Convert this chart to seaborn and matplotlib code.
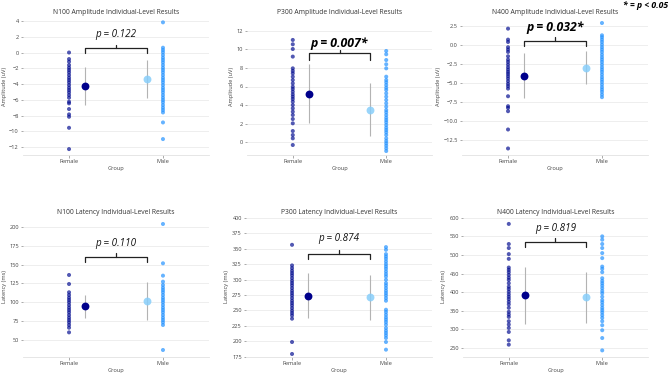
import numpy as np
import pandas as pd
import matplotlib
matplotlib.use("Agg")
import matplotlib.pyplot as plt
import seaborn as sns

# ---------------- data ----------------
groups = ["Female", "Male"]

titles = ["N100 Amplitude Individual-Level Results",
          "P300 Amplitude Individual-Level Results",
          "N400 Amplitude Individual-Level Results",
          "N100 Latency Individual-Level Results",
          "P300 Latency Individual-Level Results",
          "N400 Latency Individual-Level Results"]
ylabels = ["Amplitude (uV)"] * 3 + ["Latency (ms)"] * 3
p_labels = ["p = 0.122", "p = 0.007*", "p = 0.032*", "p = 0.110", "p = 0.874", "p = 0.819"]
significant = [False, True, True, False, False, False]

n100_amp_female = [0.0, -0.83, -1.16, -1.59, -1.93, -2.22, -2.52, -2.86, -3.2, -3.49, -3.79, -4.13,
                   -4.47, -4.76, -5.06, -5.4, -5.73, -6.24, -6.45, -7.17, -7.85, -8.15, -9.55, -12.25]
n100_amp_male = [3.83, 0.61, 0.32, 0.03, -0.32, -0.66, -0.95, -1.25, -1.59, -1.93, -2.22, -2.52, -2.86,
                 -3.2, -3.49, -3.79, -4.13, -4.47, -4.76, -5.06, -5.4, -5.73, -6.03, -6.32, -6.67, -7.0,
                 -7.3, -7.6, -8.87, -10.98]
p300_amp_female = [11.03, 10.56, 10.05, 9.23, 7.96, 7.68, 7.42, 7.06, 6.7, 6.34, 5.98, 5.73, 5.44, 5.15,
                   4.9, 4.65, 4.36, 4.0, 3.64, 3.28, 2.92, 2.49, 2.02, 1.19, 0.76, 0.4, -0.32]
p300_amp_male = [9.84, 9.48, 8.86, 8.4, 7.96, 7.06, 6.7, 6.45, 6.16, 5.87, 5.62, 5.26, 4.9, 4.54, 4.18,
                 3.82, 3.46, 3.21, 2.92, 2.63, 2.38, 2.13, 1.84, 1.55, 1.3, 1.05, 0.76, 0.4, 0.11, -0.14,
                 -0.4, -0.68, -0.97]
n400_amp_female = [2.15, 0.7, 0.39, -0.3, -0.61, -0.92, -1.49, -1.93, -2.24, -2.59, -2.94, -3.25, -3.55,
                   -3.82, -4.12, -4.43, -4.78, -5.13, -5.43, -5.75, -6.76, -8.07, -8.29, -8.73, -11.14,
                   -13.64]
n400_amp_male = [2.89, 1.27, 1.01, 0.7, 0.39, 0.04, -0.3, -0.61, -0.92, -1.28, -1.62, -1.93, -2.24,
                 -2.59, -2.94, -3.25, -3.55, -3.9, -4.25, -4.56, -4.87, -5.22, -5.57, -5.88, -6.18,
                 -6.54, -6.88]
n100_lat_female = [136.3, 124.3, 113.3, 109.7, 106.1, 103.1, 100.0, 96.4, 92.9, 89.8, 86.7, 83.1, 79.6,
                   76.5, 73.4, 69.9, 66.3, 60.1]
n100_lat_male = [204.0, 151.8, 135.4, 127.4, 123.0, 119.4, 116.3, 113.3, 109.7, 106.1, 103.1, 100.0,
                 96.4, 92.9, 89.8, 86.7, 83.1, 79.6, 76.5, 73.4, 69.9, 36.7]
p300_lat_female = [356.3, 322.9, 318.5, 314.2, 310.4, 306.7, 302.4, 298.1, 294.3, 290.5, 286.2, 281.9,
                   278.1, 274.3, 270.0, 265.7, 261.9, 258.1, 253.8, 249.5, 245.7, 241.9, 236.6, 198.8,
                   179.4]
p300_lat_male = [352.6, 348.2, 341.2, 337.4, 333.7, 329.3, 325.0, 321.2, 317.5, 313.1, 308.9, 305.0,
                 299.7, 294.3, 290.5, 286.2, 281.9, 278.1, 274.3, 270.0, 265.7, 251.1, 247.4, 243.0,
                 238.7, 235.0, 231.2, 226.9, 221.5, 217.2, 213.4, 209.5, 205.3, 198.8, 186.4]
n400_lat_female = [583.7, 529.7, 518.9, 502.6, 489.9, 466.4, 460.2, 453.9, 446.6, 439.3, 433.1, 424.2,
                   415.0, 408.8, 401.5, 394.4, 387.9, 381.7, 374.4, 367.4, 358.2, 347.4, 340.3, 333.8,
                   322.2, 313.3, 304.1, 293.3, 270.8, 259.2]
n400_lat_male = [550.2, 541.3, 529.7, 518.9, 505.3, 491.8, 469.0, 462.9, 453.9, 437.7, 430.4, 424.2,
                 417.7, 410.7, 403.4, 397.1, 387.9, 379.0, 372.8, 365.5, 358.2, 352.0, 345.7, 338.4,
                 331.1, 322.2, 311.4, 297.9, 277.0, 243.8]

# group means and standard deviations (Female, Male)
n100_amp_mean, n100_amp_sd = [-4.25, -3.35], [2.43, 2.39]
p300_amp_mean, p300_amp_sd = [5.2, 3.5], [3.19, 2.83]
n400_amp_mean, n400_amp_sd = [-4.05, -2.98], [2.96, 2.13]
n100_lat_mean, n100_lat_sd = [94.7, 101.8], [15.1, 25.5]
p300_lat_mean, p300_lat_sd = [273.8, 271.5], [36.4, 36.4]
n400_lat_mean, n400_lat_sd = [392.5, 386.0], [76.5, 69.0]

female_sets = [n100_amp_female, p300_amp_female, n400_amp_female,
               n100_lat_female, p300_lat_female, n400_lat_female]
male_sets = [n100_amp_male, p300_amp_male, n400_amp_male,
             n100_lat_male, p300_lat_male, n400_lat_male]
mean_sets = [n100_amp_mean, p300_amp_mean, n400_amp_mean, n100_lat_mean, p300_lat_mean, n400_lat_mean]
sd_sets = [n100_amp_sd, p300_amp_sd, n400_amp_sd, n100_lat_sd, p300_lat_sd, n400_lat_sd]

yticks = [np.arange(-12, 4.1, 2), np.arange(0, 12.1, 2), np.arange(-12.5, 2.6, 2.5),
          np.arange(50, 201, 25), np.arange(175, 401, 25), np.arange(250, 601, 50)]
ylims = [(-13.0, 4.38), (-1.4, 13.4), (-14.5, 3.55), (27.4, 214.6), (174.5, 403.0), (226.0, 605.0)]

# ---------------- style / layout ----------------
sns.set_theme(style="white")
plt.rcParams['font.family'] = ['Open Sans', 'DejaVu Sans']

W, H = 669, 373
fig = plt.figure(figsize=(W / 100, H / 100), dpi=100)

# axes boxes in pixels: (left, top, right, bottom)
boxes = [(23, 18, 209, 155), (247, 18, 432, 155), (462, 18, 648, 155),
         (23, 216, 209, 357), (246, 216, 432, 357), (463, 216, 648, 357)]
ylabel_x = [-0.086, -0.07, -0.112, -0.086, -0.091, -0.092]
# bracket (horizontal, end, notch) and text y in axes fraction
bracket_y = [(0.781, 0.745, 0.803, 0.883), (0.745, 0.693, 0.766, 0.817), (0.832, 0.796, 0.861, 0.934),
             (0.711, 0.676, 0.735, 0.806), (0.730, 0.695, 0.759, 0.842), (0.813, 0.778, 0.842, 0.913)]
title_pad = [3.0, 3.0, 3.0, 1.8, 1.8, 1.8]

palette = {"Female": "#000a8f", "Male": "#1E90FF"}
mean_colors = ["#00008B", "#87CEFA"]
offsets = [0.17, -0.17]

for i in range(6):
    l, t, r, b = boxes[i]
    ax = fig.add_axes([l / W, 1 - b / H, (r - l) / W, (b - t) / H])
    df = pd.DataFrame({
        "Group": ["Female"] * len(female_sets[i]) + ["Male"] * len(male_sets[i]),
        "value": list(female_sets[i]) + list(male_sets[i]),
    })
    sns.stripplot(data=df, x="Group", y="value", hue="Group", order=groups, palette=palette,
                  jitter=False, size=2.9, alpha=0.68, linewidth=0, legend=False, ax=ax, zorder=3)
    # means with SD error bars, beside each strip
    for k in range(2):
        xpos = k + offsets[k]
        ax.errorbar([xpos], [mean_sets[i][k]], yerr=[sd_sets[i][k]], fmt="none",
                    ecolor="#b3b3b3", elinewidth=0.8, capsize=0, zorder=4)
        ax.scatter([xpos], [mean_sets[i][k]], s=32, color=mean_colors[k],
                   alpha=1.0 if k == 0 else 0.85, linewidths=0, zorder=5)

    ax.set_xlim(-0.49, 1.49)
    ax.set_ylim(*ylims[i])
    ax.set_yticks(yticks[i])
    ax.grid(axis="y", color="#ebebeb", linewidth=0.6)
    ax.set_axisbelow(True)
    for s in ["left", "right", "top"]:
        ax.spines[s].set_visible(False)
    ax.spines["bottom"].set_color("#e2e2e2")
    ax.spines["bottom"].set_linewidth(0.6)
    ax.tick_params(axis="both", which="major", length=1.8, width=0.5, color="#888888",
                   pad=1.2, labelsize=4.1, labelcolor="#444444", left=True, bottom=True)
    ax.set_title(titles[i], fontsize=4.9, color="#333333", pad=title_pad[i])
    ax.set_xlabel("Group", fontsize=4.1, color="#444444", labelpad=1.5)
    ax.set_ylabel(ylabels[i], fontsize=4.1, color="#444444")
    ax.yaxis.set_label_coords(ylabel_x[i], 0.5)

    # significance bracket between the two means
    x0, x1 = 0 + offsets[0], 1 + offsets[1]
    yh, ye, yn, yt = bracket_y[i]
    tr = ax.get_xaxis_transform()
    xm = (x0 + x1) / 2
    ax.plot([x0, x0, x1, x1], [ye, yh, yh, ye], transform=tr, color="#222222", lw=0.9,
            solid_joinstyle="round", clip_on=False, zorder=6)
    ax.plot([xm, xm], [yh, yn], transform=tr, color="#222222", lw=0.9, clip_on=False, zorder=6)
    if significant[i]:
        ax.text(xm, yt, p_labels[i], transform=tr, ha="center", va="center",
                fontsize=8.8, fontstyle="italic", fontweight="bold", color="black")
    else:
        ax.text(xm, yt, p_labels[i], transform=tr, ha="center", va="center",
                fontsize=7.1, fontstyle="italic", color="#111111")

fig.text(0.999, 1 - 5 / H, "* = p < 0.05", ha="right", va="center", fontsize=6.2,
         fontstyle="italic", fontweight="bold", color="black")

fig.savefig("out.png", dpi=100)
